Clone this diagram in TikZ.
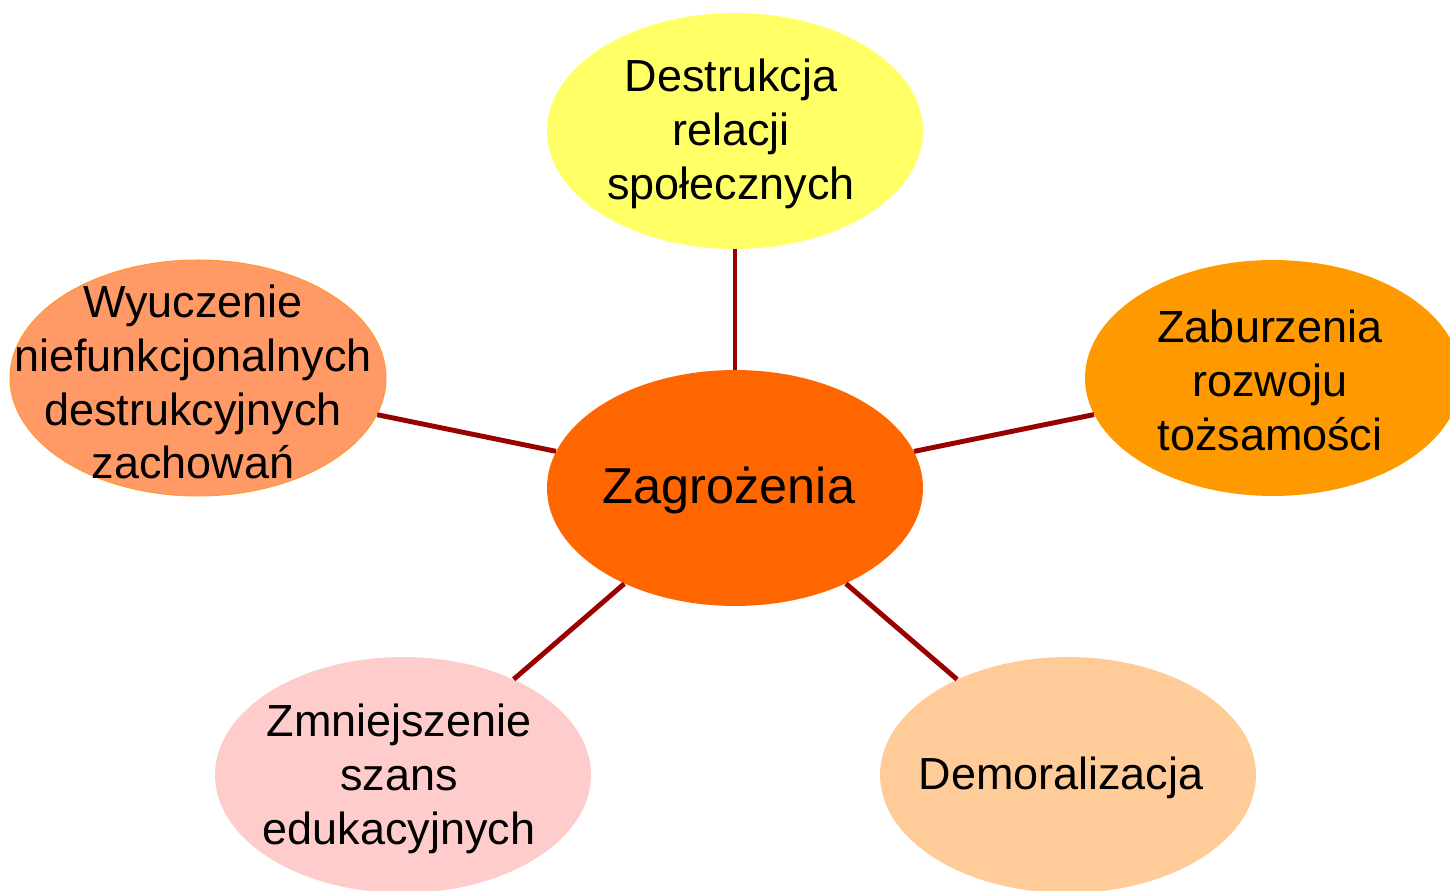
\documentclass[tikz,border=0pt]{standalone}
\usepackage{fontspec}
\setmainfont{Liberation Sans}
\usetikzlibrary{shapes.geometric}
\definecolor{cTop}{HTML}{FFFF66}
\definecolor{cMid}{HTML}{FF6600}
\definecolor{cRight}{HTML}{FF9900}
\definecolor{cLeft}{HTML}{FF9966}
\definecolor{cLeftBorder}{HTML}{FF9933}
\definecolor{cBL}{HTML}{FFCCCC}
\definecolor{cBR}{HTML}{FFCC99}
\definecolor{cLine}{HTML}{990000}
\tikzset{
  bubble/.style={ellipse, minimum width=7.52cm, minimum height=4.72cm, inner sep=0pt, draw=none},
  label/.style={align=center, inner sep=0pt, font=\fontsize{25.6}{30.7}\selectfont},
  biglabel/.style={align=center, inner sep=0pt, font=\fontsize{28.7}{34}\selectfont},
  link/.style={draw=cLine, line width=2.8pt}
}
\begin{document}
\begin{tikzpicture}[x=0.02cm,y=-0.02cm]
\useasboundingbox (0,0) rectangle (1450,891);
\node[bubble, fill=cTop] (top) at (735,131) {};
\node[bubble, fill=cMid] (mid) at (735,488) {};
\node[bubble, fill=cRight] (right) at (1273,378) {};
\node[bubble, fill=cLeft, draw=cLeftBorder, line width=0.6pt] (left) at (198,378) {};
\node[bubble, fill=cBL] (bl) at (403,775) {};
\node[bubble, fill=cBR] (br) at (1068,775) {};
\draw[link] (mid) -- (top);
\draw[link] (mid) -- (left);
\draw[link] (mid) -- (right);
\draw[link] (mid) -- (bl);
\draw[link] (mid) -- (br);
\node[label] (ttop) at (731,134) {Destrukcja\\relacji\\społecznych};
\node[biglabel] (tmid) at (729,490) {Zagrożenia};
\node[label] (tright) at (1270,380) {Zaburzenia\\rozwoju\\tożsamości};
\node[label] (tleft) at (193,382) {Wyuczenie\\niefunkcjonalnych\\destrukcyjnych\\zachowań};
\node[label] (tbl) at (399,779) {Zmniejszenie\\szans\\edukacyjnych};
\node[label] (tbr) at (1061,778) {Demoralizacja};
\end{tikzpicture}
\end{document}
